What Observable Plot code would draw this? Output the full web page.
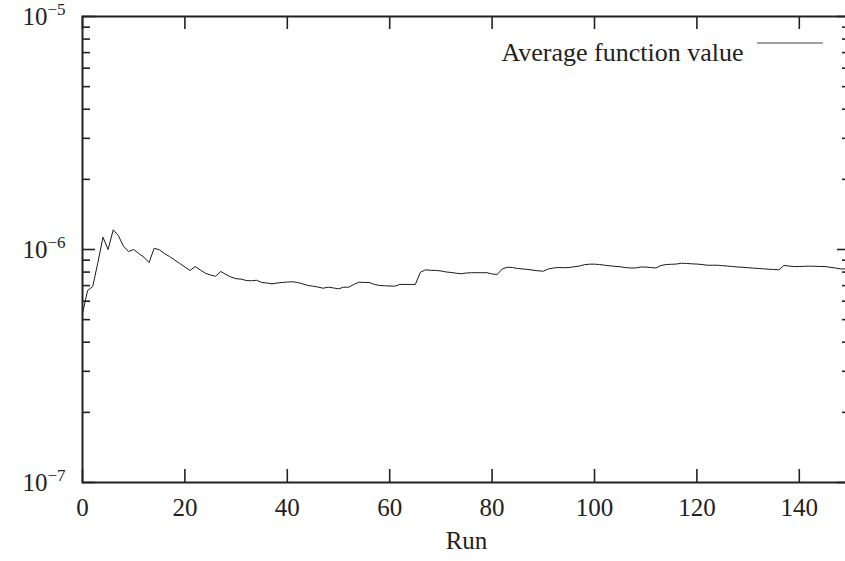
<!DOCTYPE html>
<html><head><meta charset="utf-8">
<script src="https://cdn.jsdelivr.net/npm/d3@7"></script>
<script src="https://cdn.jsdelivr.net/npm/@observablehq/plot@0.6"></script>
<style>
html,body{margin:0;padding:0;background:#fff;overflow:hidden;}
#chart svg{max-width:none !important;}
</style></head><body><div id="chart"></div>
<script>
const seriesName = "Average function value";
const xLabel = "Run";
// average function value per run, in units of 1e-6 (run = index)
const avgValuesMicro = [
  0.531,0.667,0.694,0.879,1.129,1.000,1.215,1.148,1.033,0.980,
  1.000,0.961,0.927,0.879,1.013,0.997,0.961,0.933,0.901,0.871,
  0.841,0.813,0.845,0.817,0.791,0.777,0.768,0.805,0.781,0.762,
  0.749,0.746,0.736,0.734,0.738,0.722,0.718,0.712,0.718,0.722,
  0.725,0.727,0.722,0.712,0.701,0.696,0.690,0.682,0.689,0.684,
  0.678,0.689,0.689,0.708,0.724,0.722,0.722,0.708,0.701,0.699,
  0.697,0.696,0.708,0.708,0.708,0.708,0.799,0.818,0.814,0.813,
  0.809,0.801,0.797,0.791,0.787,0.793,0.795,0.795,0.795,0.795,
  0.785,0.781,0.826,0.839,0.837,0.829,0.825,0.821,0.815,0.810,
  0.807,0.825,0.833,0.837,0.835,0.837,0.843,0.849,0.860,0.865,
  0.865,0.862,0.856,0.851,0.847,0.843,0.837,0.833,0.833,0.841,
  0.841,0.837,0.833,0.854,0.862,0.864,0.866,0.873,0.871,0.868,
  0.866,0.862,0.856,0.856,0.856,0.852,0.849,0.845,0.841,0.839,
  0.835,0.832,0.829,0.826,0.823,0.821,0.818,0.854,0.849,0.845,
  0.845,0.847,0.848,0.847,0.846,0.845,0.839,0.833,0.826,0.825
];
const xTicks = [0, 20, 40, 60, 80, 100, 120, 140];
const xDomain = [0, 150];
const yDomain = [1e-7, 1e-5];
const yMajorTicks = [1e-7, 1e-6, 1e-5];
const yMinorTicks = [2e-7,3e-7,4e-7,5e-7,6e-7,7e-7,8e-7,9e-7,2e-6,3e-6,4e-6,5e-6,6e-6,7e-6,8e-6,9e-6];

const data = avgValuesMicro.map((v, i) => ({run: i, value: v * 1e-6}));

const W = 855, H = 561;
const mL = 82, mR = 5, mT = 16, mB = 79;
const pw = W - mL - mR, ph = H - mT - mB;
const ink = "#222";

function legendSwatch(index, scales, values, dims, ctx) {
  const doc = ctx && ctx.document ? ctx.document : document;
  const ln = doc.createElementNS("http://www.w3.org/2000/svg", "line");
  const right = dims.width - dims.marginRight;
  ln.setAttribute("x1", right - 93);
  ln.setAttribute("x2", right - 27);
  ln.setAttribute("y1", dims.marginTop + 27);
  ln.setAttribute("y2", dims.marginTop + 27);
  ln.setAttribute("stroke", "#444");
  ln.setAttribute("stroke-width", 1);
  return ln;
}

const chart = Plot.plot({
  width: W, height: H,
  marginLeft: mL, marginRight: mR, marginTop: mT, marginBottom: mB,
  style: {fontFamily: "'Liberation Serif', 'Times New Roman', serif", fontSize: "25px", background: "#fff", color: ink, maxWidth: "none"},
  x: {domain: xDomain},
  y: {type: "log", domain: yDomain},
  marks: [
    Plot.axisX({ticks: xTicks, tickSize: 0, tickPadding: 16, label: null, fontSize: 25}),
    Plot.axisY({ticks: yMajorTicks, tickSize: 0, tickPadding: 17, label: null, fontSize: 25,
                tickFormat: d => "10^" + Math.round(Math.log10(d))}),
    Plot.tickX(xTicks, {x: d => d, insetTop: ph - 13, stroke: ink, strokeWidth: 1.6}),
    Plot.tickX(xTicks, {x: d => d, insetBottom: ph - 13, stroke: ink, strokeWidth: 1.6}),
    Plot.tickY(yMajorTicks, {y: d => d, insetRight: pw - 13, stroke: ink, strokeWidth: 1.6}),
    Plot.tickY(yMajorTicks, {y: d => d, insetLeft: pw - 13, stroke: ink, strokeWidth: 1.6}),
    Plot.tickY(yMinorTicks, {y: d => d, insetRight: pw - 8, stroke: ink, strokeWidth: 1.6}),
    Plot.tickY(yMinorTicks, {y: d => d, insetLeft: pw - 8, stroke: ink, strokeWidth: 1.6}),
    Plot.line(data, {x: "run", y: "value", stroke: "#1a1a1a", strokeWidth: 1}),
    Plot.frame({stroke: ink, strokeWidth: 2}),
    Plot.text([xLabel], {frameAnchor: "bottom", dy: 66, text: d => d, fontSize: 25, fill: ink}),
    Plot.text([seriesName], {frameAnchor: "top-right", dx: -107, dy: 25.6, textAnchor: "end", text: d => d, fontSize: 26, fill: ink}),
    legendSwatch
  ]
});
chart.style.maxWidth = "none";

// render exponents as superscripts
d3.select(chart).selectAll('g[aria-label="y-axis tick label"] text').each(function() {
  const t = d3.select(this);
  const s = t.text();
  const m = s.match(/^10\^(-?\d+)$/);
  if (!m) return;
  t.text("");
  t.append("tspan").text("10");
  t.append("tspan").attr("dy", "-0.55em").attr("font-size", 17).text(m[1].replace("-", "\u2212"));
});

document.getElementById("chart").appendChild(chart);
</script>
</body></html>
